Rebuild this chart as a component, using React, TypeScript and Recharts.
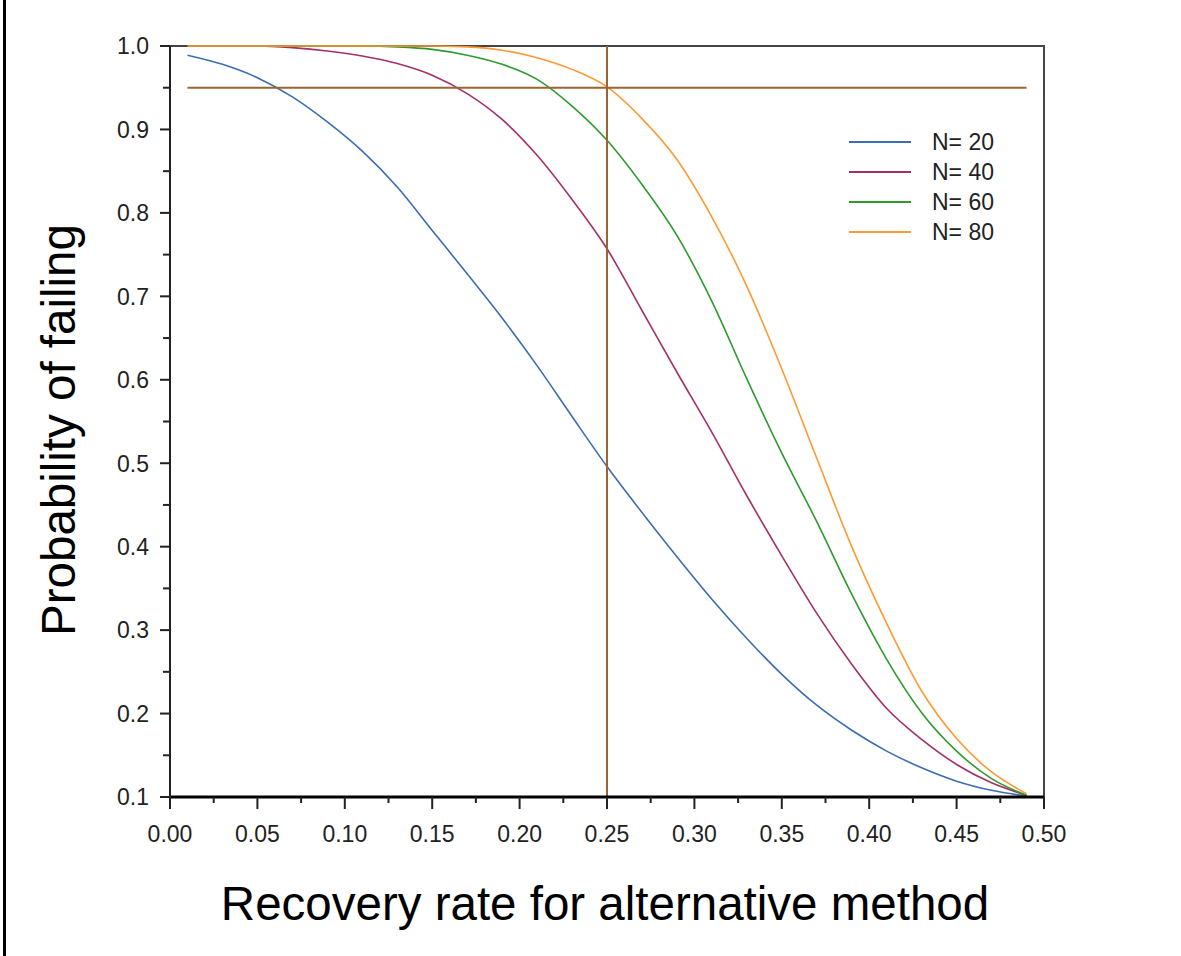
import { LineChart, Line, XAxis, YAxis, ReferenceLine, ReferenceArea, Legend } from 'recharts';

const rates = [
    0.01, 0.03, 0.05, 0.07, 0.09, 0.11, 0.13, 0.15, 0.17, 0.19, 0.21, 0.23, 0.25,
    0.27, 0.29, 0.31, 0.33, 0.35, 0.37, 0.39, 0.41, 0.43, 0.45, 0.47, 0.49,
];

const n20 = [
    0.989, 0.978, 0.962, 0.939, 0.909, 0.874, 0.831, 0.779, 0.727, 0.674, 0.617, 0.556, 0.496,
    0.441, 0.388, 0.337, 0.290, 0.247, 0.210, 0.180, 0.155, 0.135, 0.119, 0.108, 0.101,
];
const n40 = [
    1.0, 1.0, 1.0, 0.998, 0.994, 0.988, 0.979, 0.965, 0.943, 0.912, 0.869, 0.816, 0.757,
    0.683, 0.609, 0.537, 0.461, 0.389, 0.320, 0.259, 0.206, 0.169, 0.139, 0.117, 0.102,
];
const n60 = [
    1.0, 1.0, 1.0, 1.0, 1.0, 1.0, 0.999, 0.996, 0.989, 0.978, 0.960, 0.928, 0.887,
    0.834, 0.773, 0.694, 0.601, 0.512, 0.430, 0.343, 0.265, 0.201, 0.155, 0.122, 0.102,
];
const n80 = [
    1.0, 1.0, 1.0, 1.0, 1.0, 1.0, 1.0, 1.0, 0.999, 0.995, 0.986, 0.972, 0.951,
    0.913, 0.864, 0.795, 0.712, 0.613, 0.506, 0.400, 0.308, 0.227, 0.170, 0.130, 0.104,
];

const seriesNames = ['N= 20', 'N= 40', 'N= 60', 'N= 80'];
const seriesColors = ['#3b6db2', '#a3306a', '#2e9a2e', '#ff9933'];

const xTicks = [
    0, 0.025, 0.05, 0.075, 0.1, 0.125, 0.15, 0.175, 0.2, 0.225, 0.25,
    0.275, 0.3, 0.325, 0.35, 0.375, 0.4, 0.425, 0.45, 0.475, 0.5,
];
const yTicks = [
    0.1, 0.15, 0.2, 0.25, 0.3, 0.35, 0.4, 0.45, 0.5, 0.55,
    0.6, 0.65, 0.7, 0.75, 0.8, 0.85, 0.9, 0.95, 1.0,
];

const targetProb = 0.95;
const targetRate = 0.25;

const data = rates.map((x, i) => ({ x, n20: n20[i], n40: n40[i], n60: n60[i], n80: n80[i] }));
const keys = ['n20', 'n40', 'n60', 'n80'];

const font = '"Liberation Sans", Arial, sans-serif';
const refColor = '#9c6430';

const YTick = (props: any) => {
    const { x, y, payload } = props;
    const v = payload.value;
    const major = Math.round(v * 100) % 10 === 0;
    return (
        <g>
            <line x1={x + (major ? 11 : 14)} x2={x + 21} y1={y} y2={y} stroke="#222" strokeWidth={2} />
            {major && (
                <text x={x} y={y} dy="0.36em" textAnchor="end" fontSize={23} fill="#222" fontFamily={font}>
                    {v.toFixed(1)}
                </text>
            )}
        </g>
    );
};

const XTick = (props: any) => {
    const { x, y, payload } = props;
    const v = payload.value;
    const major = Math.round(v * 1000) % 50 === 0;
    return (
        <g>
            <line x1={x} x2={x} y1={y - 28} y2={y - (major ? 16 : 22)} stroke="#222" strokeWidth={2} />
            {major && (
                <text x={x} y={y} dy="0.72em" textAnchor="middle" fontSize={23} fill="#222" fontFamily={font}>
                    {v.toFixed(2)}
                </text>
            )}
        </g>
    );
};

function App() {
    return (
        <div style={{ position: 'absolute', left: 0, top: 0, width: 1181, height: 956, background: '#fff' }}>
            <div style={{ position: 'absolute', left: 3, top: 0, height: 956, borderLeft: '3px solid #000' }} />
            <LineChart
                width={1181}
                height={956}
                data={data}
                margin={{ top: 46, right: 137, bottom: 99, left: 100 }}
            >
                <ReferenceArea x1={0} x2={0.5} y1={0.1} y2={1.0} fill="none" stroke="#444" strokeWidth={2} />
                <XAxis
                    type="number"
                    dataKey="x"
                    domain={[0, 0.5]}
                    ticks={xTicks}
                    interval={0}
                    height={60}
                    tickSize={12}
                    tickMargin={16}
                    tickLine={false}
                    axisLine={{ stroke: '#000', strokeWidth: 3 }}
                    tick={<XTick />}
                    label={{
                        content: () => (
                            <text x={605} y={920} textAnchor="middle" fontSize={47.5} fill="#000" fontFamily={font}>
                                Recovery rate for alternative method
                            </text>
                        ),
                    }}
                />
                <YAxis
                    type="number"
                    domain={[0.1, 1.0]}
                    ticks={yTicks}
                    interval={0}
                    width={70}
                    tickSize={10}
                    tickMargin={11}
                    tickLine={false}
                    axisLine={{ stroke: '#222', strokeWidth: 2 }}
                    tick={<YTick />}
                    label={{
                        content: () => (
                            <text
                                x={75}
                                y={430}
                                transform="rotate(-90 75 430)"
                                textAnchor="middle"
                                fontSize={47.5}
                                fill="#000"
                                fontFamily={font}
                            >
                                Probability of failing
                            </text>
                        ),
                    }}
                />
                {keys.map((k, i) => (
                    <Line
                        key={k}
                        type="monotone"
                        dataKey={k}
                        name={seriesNames[i]}
                        stroke={seriesColors[i]}
                        strokeWidth={1.6}
                        dot={false}
                        isAnimationActive={false}
                    />
                ))}
                <ReferenceLine
                    segment={[{ x: rates[0], y: targetProb }, { x: rates[rates.length - 1], y: targetProb }]}
                    stroke={refColor}
                    strokeWidth={2}
                />
                <ReferenceLine x={targetRate} stroke={refColor} strokeWidth={2} />
                <Legend
                    layout="vertical"
                    align="center"
                    verticalAlign="middle"
                    wrapperStyle={{ position: 'absolute', left: 849, top: 127, width: 'auto' }}
                    content={({ payload }: any) => (
                        <div style={{ fontFamily: font, fontSize: 23 }}>
                            {(payload || []).map((e: any) => (
                                <div key={e.value} style={{ display: 'flex', alignItems: 'center', height: 30 }}>
                                    <svg width={62} height={4}>
                                        <line x1={0} x2={62} y1={2} y2={2} stroke={e.color} strokeWidth={2} />
                                    </svg>
                                    <span style={{ marginLeft: 21, color: '#222', lineHeight: '30px' }}>{e.value}</span>
                                </div>
                            ))}
                        </div>
                    )}
                />
            </LineChart>
        </div>
    );
}

export default App;
